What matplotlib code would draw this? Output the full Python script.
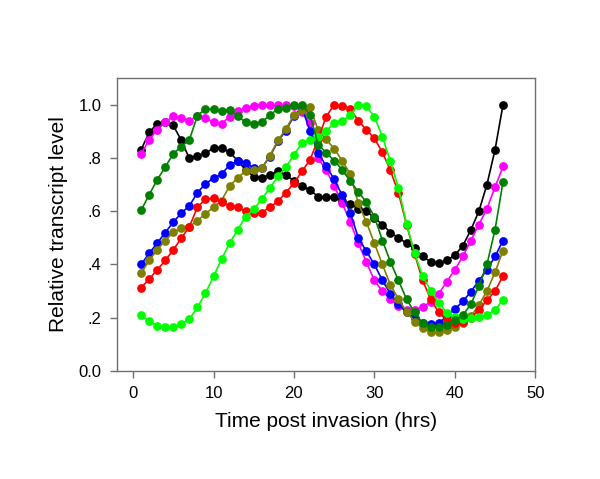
import numpy as np
import matplotlib
matplotlib.use("Agg")
import matplotlib.pyplot as plt

plt.rcParams['font.family'] = ['Liberation Sans', 'DejaVu Sans']

# hours post invasion
hours = list(range(1, 47))

black = [0.831, 0.896, 0.929, 0.935, 0.922, 0.866, 0.798, 0.808, 0.818, 0.837,
         0.839, 0.821, 0.790, 0.755, 0.730, 0.725, 0.737, 0.750, 0.735, 0.715,
         0.695, 0.680, 0.655, 0.653, 0.653, 0.640, 0.628, 0.610, 0.600, 0.575,
         0.550, 0.520, 0.500, 0.480, 0.460, 0.430, 0.410, 0.405, 0.415, 0.435,
         0.470, 0.530, 0.600, 0.700, 0.830, 1.000]

magenta = [0.816, 0.868, 0.906, 0.935, 0.956, 0.950, 0.940, 0.958, 0.950, 0.934,
           0.929, 0.955, 0.978, 0.987, 0.994, 1.000, 1.000, 1.000, 1.000, 0.997,
           0.971, 0.930, 0.800, 0.755, 0.695, 0.630, 0.560, 0.480, 0.410, 0.340,
           0.300, 0.270, 0.245, 0.230, 0.230, 0.240, 0.260, 0.290, 0.335, 0.380,
           0.430, 0.490, 0.550, 0.610, 0.690, 0.768]

dkgreen = [0.603, 0.662, 0.718, 0.766, 0.816, 0.843, 0.868, 0.959, 0.984, 0.984,
           0.977, 0.980, 0.956, 0.935, 0.929, 0.935, 0.960, 0.985, 0.987, 1.000,
           1.000, 0.962, 0.850, 0.820, 0.790, 0.756, 0.712, 0.674, 0.633, 0.580,
           0.490, 0.410, 0.340, 0.270, 0.220, 0.180, 0.165, 0.165, 0.173, 0.190,
           0.210, 0.250, 0.320, 0.400, 0.530, 0.710]

blue = [0.400, 0.442, 0.480, 0.520, 0.559, 0.593, 0.620, 0.670, 0.703, 0.724,
        0.739, 0.774, 0.787, 0.782, 0.762, 0.762, 0.805, 0.862, 0.903, 0.958,
        0.990, 0.900, 0.820, 0.770, 0.720, 0.660, 0.595, 0.500, 0.450, 0.400,
        0.340, 0.290, 0.250, 0.220, 0.200, 0.182, 0.177, 0.180, 0.205, 0.232,
        0.261, 0.298, 0.339, 0.380, 0.430, 0.490]

olive = [0.367, 0.415, 0.455, 0.490, 0.521, 0.536, 0.542, 0.565, 0.590, 0.615,
         0.640, 0.695, 0.724, 0.752, 0.756, 0.762, 0.808, 0.866, 0.908, 0.962,
         0.980, 0.990, 0.905, 0.870, 0.835, 0.790, 0.740, 0.630, 0.560, 0.480,
         0.400, 0.323, 0.270, 0.223, 0.185, 0.160, 0.148, 0.148, 0.154, 0.164,
         0.182, 0.205, 0.248, 0.300, 0.370, 0.452]

red = [0.313, 0.345, 0.380, 0.415, 0.455, 0.499, 0.542, 0.615, 0.645, 0.649,
       0.635, 0.620, 0.615, 0.600, 0.593, 0.595, 0.615, 0.637, 0.670, 0.705,
       0.750, 0.793, 0.870, 0.955, 1.000, 0.997, 0.985, 0.940, 0.906, 0.874,
       0.821, 0.753, 0.668, 0.550, 0.440, 0.340, 0.270, 0.220, 0.190, 0.180,
       0.185, 0.200, 0.230, 0.265, 0.300, 0.357]

ltgreen = [0.211, 0.188, 0.169, 0.164, 0.164, 0.177, 0.195, 0.239, 0.292, 0.355,
           0.420, 0.480, 0.530, 0.580, 0.607, 0.645, 0.687, 0.731, 0.765, 0.812,
           0.856, 0.868, 0.880, 0.900, 0.932, 0.940, 0.960, 1.000, 0.996, 0.955,
           0.880, 0.787, 0.687, 0.553, 0.442, 0.357, 0.302, 0.257, 0.219, 0.201,
           0.194, 0.198, 0.201, 0.211, 0.229, 0.267]

series = [(black, 'black'), (magenta, '#ff00ff'), (blue, '#0000ff'),
          (olive, '#808000'), (red, '#ff0000'), (ltgreen, '#00ff00'),
          (dkgreen, '#008000')]

fig = plt.figure(figsize=(6, 4.79), dpi=100)
ax = fig.add_axes([0.195, 0.2255, 0.697, 0.6115])

for vals, col in series:
    ax.plot(hours, vals, '-o', color=col, lw=1.2, markersize=6.3,
            markeredgewidth=0)

ax.set_xlim(-2, 50)
ax.set_ylim(0, 1.1)
ax.set_xticks([0, 10, 20, 30, 40, 50])
ax.set_yticks([0, 0.2, 0.4, 0.6, 0.8, 1.0])
ax.set_yticklabels(['0.0', '.2', '.4', '.6', '.8', '1.0'])
for spine in ax.spines.values():
    spine.set_color('#707070')
    spine.set_linewidth(1.0)
ax.tick_params(direction='out', length=5, width=1, color='#707070',
               labelsize=12, pad=6)
ax.set_xlabel('Time post invasion (hrs)', fontsize=15, labelpad=8)
ax.set_ylabel('Relative transcript level', fontsize=15, labelpad=8)

fig.savefig('out.png', dpi=100)
